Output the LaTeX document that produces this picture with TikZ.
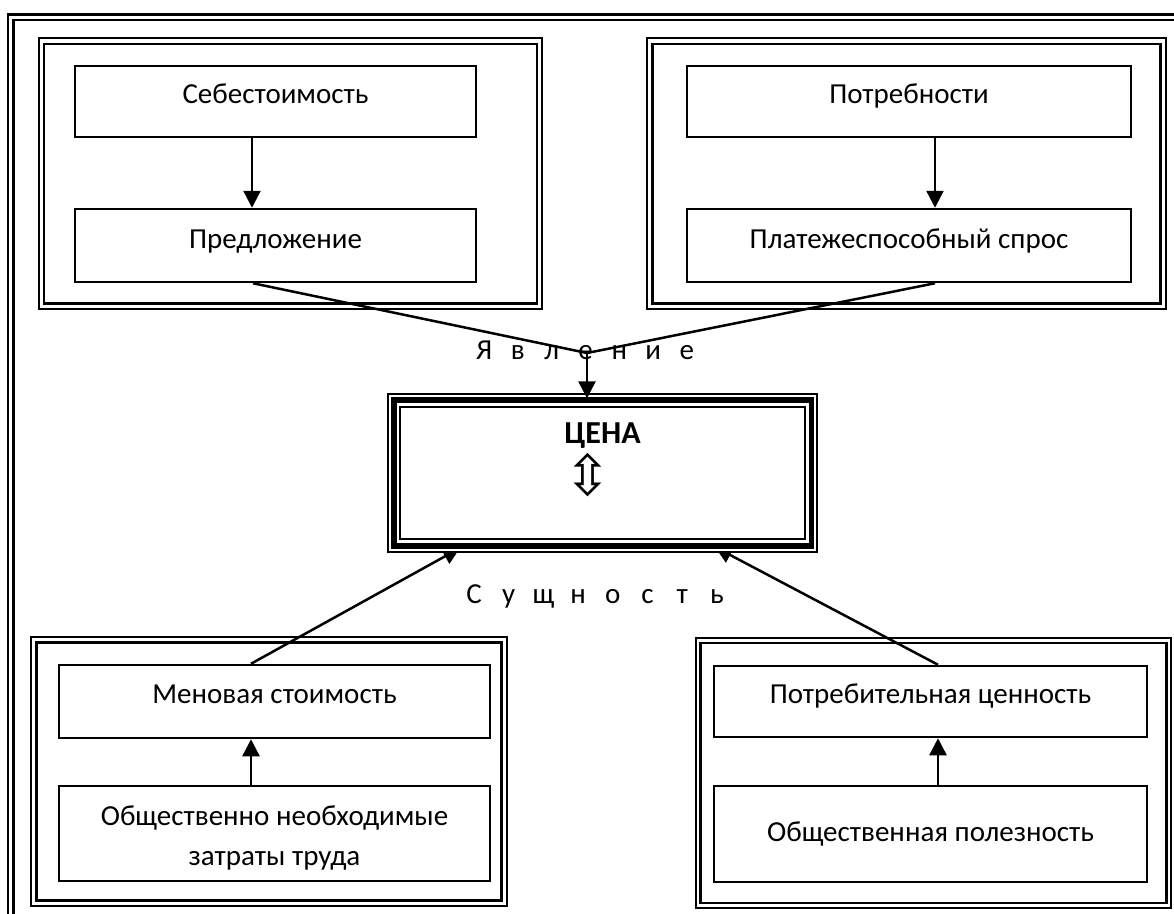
\documentclass[tikz,border=0pt]{standalone}
\usepackage{fontspec}
\setmainfont{Carlito}
\newfontfamily\djv{DejaVu Sans}
\usetikzlibrary{arrows.meta}
\pgfdeclarelayer{background}
\pgfsetlayers{background,main}
\newcommand\spl[2]{\makebox[#1]{#2}}
\begin{document}
\begin{tikzpicture}[x=1pt,y=-1pt,
  every node/.style={font=\fontsize{29}{34}\selectfont},
  box/.style={draw, line width=2.5pt, inner sep=0pt, text height=20pt, text depth=17pt},
  gouter/.style={line width=2pt},
  ginner/.style={line width=2.6pt},
  arr/.style={line width=2.5pt, -{Triangle[length=17pt,width=17pt]}},
  conn/.style={line width=2.5pt},
]
\clip (0,0) rectangle (1174,913);
% outer frame
\draw[line width=2.2pt] (8.3,14.5) rectangle (1220,960);
\draw[line width=2.6pt] (13.7,20) rectangle (1215,955);
% group frames
\draw[gouter] (38.7,38.3) rectangle (542,309);
\draw[ginner] (44,44) rectangle (536.8,303.3);
\draw[gouter] (647,38.3) rectangle (1166,309);
\draw[ginner] (652.5,44) rectangle (1160.3,303.3);
\draw[gouter] (31,637) rectangle (507,906);
\draw[ginner] (36.5,642.5) rectangle (501.5,900.5);
\draw[gouter] (696,638) rectangle (1171,908);
\draw[ginner] (700.5,643) rectangle (1166.5,903);
% boxes
\node[box, minimum width=401pt, minimum height=71pt] (seb) at (275.5,101.5) {Себестоимость};
\node[box, minimum width=401pt, minimum height=73pt, text depth=15pt] (pred) at (275.5,245.5) {Предложение};
\node[box, minimum width=444pt, minimum height=71pt] (potr) at (909,101.5) {Потребности};
\node[box, minimum width=444pt, minimum height=73pt, text depth=15pt] (plat) at (909,245.5) {Платежеспособный спрос};
\node[box, minimum width=431pt, minimum height=73pt] (men) at (274.5,701.5) {Меновая стоимость};
\node[box, minimum width=431pt, minimum height=95pt, text height=70pt, text depth=6pt, font=\fontsize{29}{40}\selectfont] (obn) at (274.5,833.5) {\begin{tabular}[b]{@{}c@{}}Общественно необходимые\\затраты труда\end{tabular}};
\node[box, minimum width=433pt, minimum height=71pt] (pc) at (930.5,701.5) {Потребительная ценность};
\node[box, minimum width=433pt, minimum height=96pt, text depth=6pt] (op) at (930.5,834) {Общественная полезность};
% central box
\node[draw, line width=2pt, fill=white, minimum width=428.5pt, minimum height=157.4pt, inner sep=0pt,
      font=\bfseries\fontsize{32}{36}\selectfont, text height=0pt, text depth=60pt] (cena) at (602.5,473) {ЦЕНА};
\draw[line width=5.5pt] ([shift={(6.5pt,-6.5pt)}]cena.north west) rectangle ([shift={(-6.5pt,6.5pt)}]cena.south east);
\draw[line width=2pt] ([shift={(13pt,-13.5pt)}]cena.north west) rectangle ([shift={(-12.5pt,13.5pt)}]cena.south east);
\node[font=\djv\fontsize{56}{60}\selectfont, inner sep=0pt] (ud) at (588,475) {⇳};
% labels
\node[anchor=base] (yav) at (585.5,359) {\spl{33.8pt}{Я}\spl{33.8pt}{в}\spl{33.8pt}{л}\spl{33.8pt}{е}\spl{33.8pt}{н}\spl{33.8pt}{и}\spl{33.8pt}{е}};
\node[anchor=base] (sus) at (595.5,603) {\spl{34.7pt}{С}\spl{34.7pt}{у}\spl{34.7pt}{щ}\spl{34.7pt}{н}\spl{34.7pt}{о}\spl{34.7pt}{с}\spl{34.7pt}{т}\spl{34.7pt}{ь}};
% connectors
\coordinate (j) at (587,353);
\draw[arr] ([xshift=-23.5pt]seb.south) -- ([xshift=-23.5pt]pred.north);
\draw[arr] ([xshift=26pt]potr.south) -- ([xshift=26pt]plat.north);
\draw[arr] ([xshift=-23.5pt]obn.north) -- ([xshift=-23.5pt]men.south);
\draw[arr] ([xshift=7.5pt]op.north) -- ([xshift=7.5pt]pc.south);
\draw[conn] ([xshift=-22.5pt]pred.south) -- (j) -- ([xshift=26pt]plat.south);
\draw[arr] (j) -- ([xshift=-15.5pt,yshift=-5pt]cena.north);
\begin{pgfonlayer}{background}
\draw[arr] ([xshift=-23.5pt]men.north) -- ([xshift=-142.5pt,yshift=4.7pt]cena.south);
\draw[arr] ([xshift=7.5pt]pc.north) -- ([xshift=112.5pt,yshift=5.7pt]cena.south);
\end{pgfonlayer}
\end{tikzpicture}
\end{document}
